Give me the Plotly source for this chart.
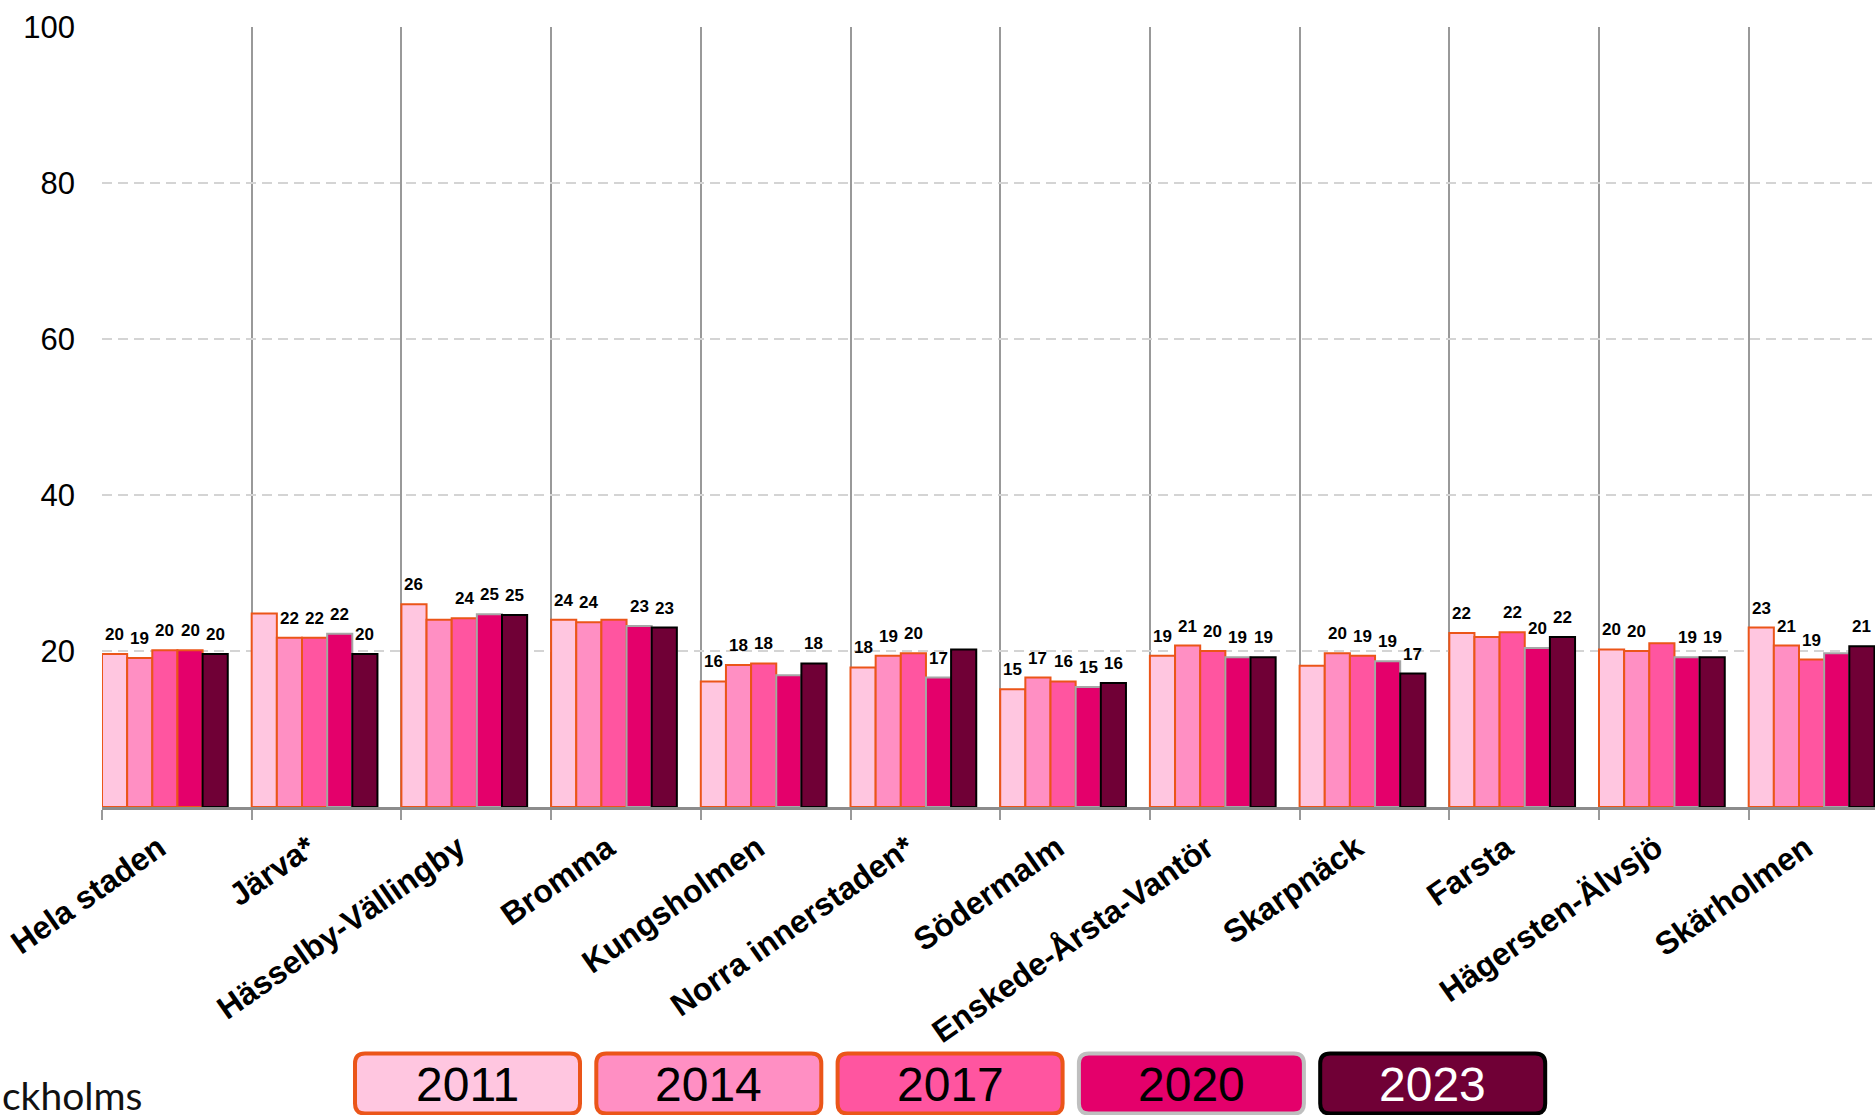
import plotly.graph_objects as go

# data
districts = ["Hela staden", "Järva*", "Hässelby-Vällingby", "Bromma", "Kungsholmen",
             "Norra innerstaden*", "Södermalm", "Enskede-Årsta-Vantör", "Skarpnäck",
             "Farsta", "Hägersten-Älvsjö", "Skärholmen"]
years = ["2011", "2014", "2017", "2020", "2023"]

v2011 = [19.6, 24.8, 26.0, 24.0, 16.1, 17.9, 15.1, 19.4, 18.1, 22.3, 20.2, 23.0]
v2014 = [19.1, 21.7, 24.0, 23.7, 18.2, 19.4, 16.6, 20.7, 19.7, 21.8, 20.0, 20.7]
v2017 = [20.1, 21.7, 24.2, 24.0, 18.4, 19.7, 16.1, 20.0, 19.4, 22.4, 21.0, 18.9]
v2020 = [20.1, 22.2, 24.7, 23.2, 16.9, 16.6, 15.4, 19.2, 18.7, 20.4, 19.2, 19.7]
v2023 = [19.6, 19.6, 24.6, 23.0, 18.4, 20.2, 15.9, 19.2, 17.1, 21.8, 19.2, 20.6]
series = [v2011, v2014, v2017, v2020, v2023]

# labels that are not shown in the original (index of district)
hidden = [[1, 8], [2, 9], [3, 10], [4, 11], [5]]

fills = ["#ffc6e0", "#ff8fc3", "#ff55a0", "#e4006b", "#700036"]
ORANGE = "#eb5519"
edges = [ORANGE, ORANGE, ORANGE, "#a6a6a6", "#000000"]
legend_edges = [ORANGE, ORANGE, ORANGE, "#bfbfbf", "#000000"]

W, H = 1875, 1115
ML, MT, MB, MR = 102, 27, 308, 0
BW = 0.168  # bar width in category units

fig = go.Figure()
for k, (yr, vals) in enumerate(zip(years, series)):
    lc = [edges[k]] * len(vals)
    if k == 3:
        lc[0] = ORANGE  # Hela staden 2020 has an orange border
    fig.add_trace(go.Bar(
        x=list(range(len(districts))), y=vals, name=yr,
        offset=k * BW, width=BW,
        marker=dict(color=fills[k], line=dict(color=lc, width=2)),
        showlegend=False,
    ))
    for i, v in enumerate(vals):
        if i in hidden[k]:
            continue
        fig.add_annotation(x=i + (k + 0.5) * BW, y=v, text=f"{v:.0f}",
                           showarrow=False, yanchor="bottom", yshift=8,
                           font=dict(family="Liberation Sans", size=17,
                                     color="black", weight="bold"))

pw = W - ML - MR
ph = H - MT - MB
xmax = pw / 149.7

fig.update_layout(
    width=W, height=H,
    margin=dict(l=ML, r=MR, t=MT, b=MB, autoexpand=False),
    paper_bgcolor="white", plot_bgcolor="white",
    barmode="overlay",
    font=dict(family="Liberation Sans", color="black"),
    xaxis=dict(
        range=[0, xmax], automargin=False,
        tickmode="array",
        tickvals=[i + 2.5 * BW - 0.04 for i in range(len(districts))],
        ticktext=districts,
        tickangle=-35,
        tickfont=dict(size=32, weight="bold", color="black"),
        ticks="", showgrid=False, zeroline=False,
        ticklabelstandoff=7,
        showline=True, linecolor="#8c8c8c", linewidth=2.5,
        minor=dict(tickmode="array", tickvals=list(range(len(districts))),
                   showgrid=True, gridcolor="#999999", gridwidth=2,
                   ticks="outside", ticklen=10, tickcolor="#999999", tickwidth=2),
    ),
    yaxis=dict(
        range=[0, 100], automargin=False,
        tickvals=[20, 40, 60, 80, 100],
        tickfont=dict(size=31, color="black"),
        showgrid=True, gridcolor="#d4d4d4", gridwidth=1.5, griddash="10px,6px",
        zeroline=False, showline=False, ticks="",
        ticklabelstandoff=26,
    ),
)

# legend as rounded boxes below the chart
def rounded(w, h, r):
    a, b = w / 2, h / 2
    return (f"M {-a + r},{-b} L {a - r},{-b} Q {a},{-b} {a},{-b + r} "
            f"L {a},{b - r} Q {a},{b} {a - r},{b} L {-a + r},{b} "
            f"Q {-a},{b} {-a},{b - r} L {-a},{-b + r} Q {-a},{-b} {-a + r},{-b} Z")

for k, yr in enumerate(years):
    cx = 467.5 + k * 241.3
    cy = 1083.5
    xp = (cx - ML) / pw
    yp = (H - MB - cy) / ph
    fig.add_shape(type="path", xref="paper", yref="paper",
                  xsizemode="pixel", ysizemode="pixel",
                  xanchor=xp, yanchor=yp, path=rounded(225, 60, 10),
                  fillcolor=fills[k], line=dict(color=legend_edges[k], width=4))
    fig.add_annotation(xref="paper", yref="paper", x=xp,
                       y=(H - MB - 1084) / ph, text=yr, showarrow=False,
                       xanchor="center", yanchor="middle", height=50,
                       font=dict(size=48, color="white" if k == 4 else "black"))

fig.add_annotation(xref="paper", yref="paper", x=(0 - ML) / pw,
                   y=(H - MB - 1115) / ph, text="ckholms", showarrow=False,
                   xanchor="left", yanchor="bottom", height=36, valign="bottom",
                   yshift=-5,
                   font=dict(family="Lato", size=39, color="#111111"))

# no page margin around the figure, no modebar
fig.write_html("out.html", config={"displayModeBar": False},
               post_script="document.body.style.margin = '0';")
